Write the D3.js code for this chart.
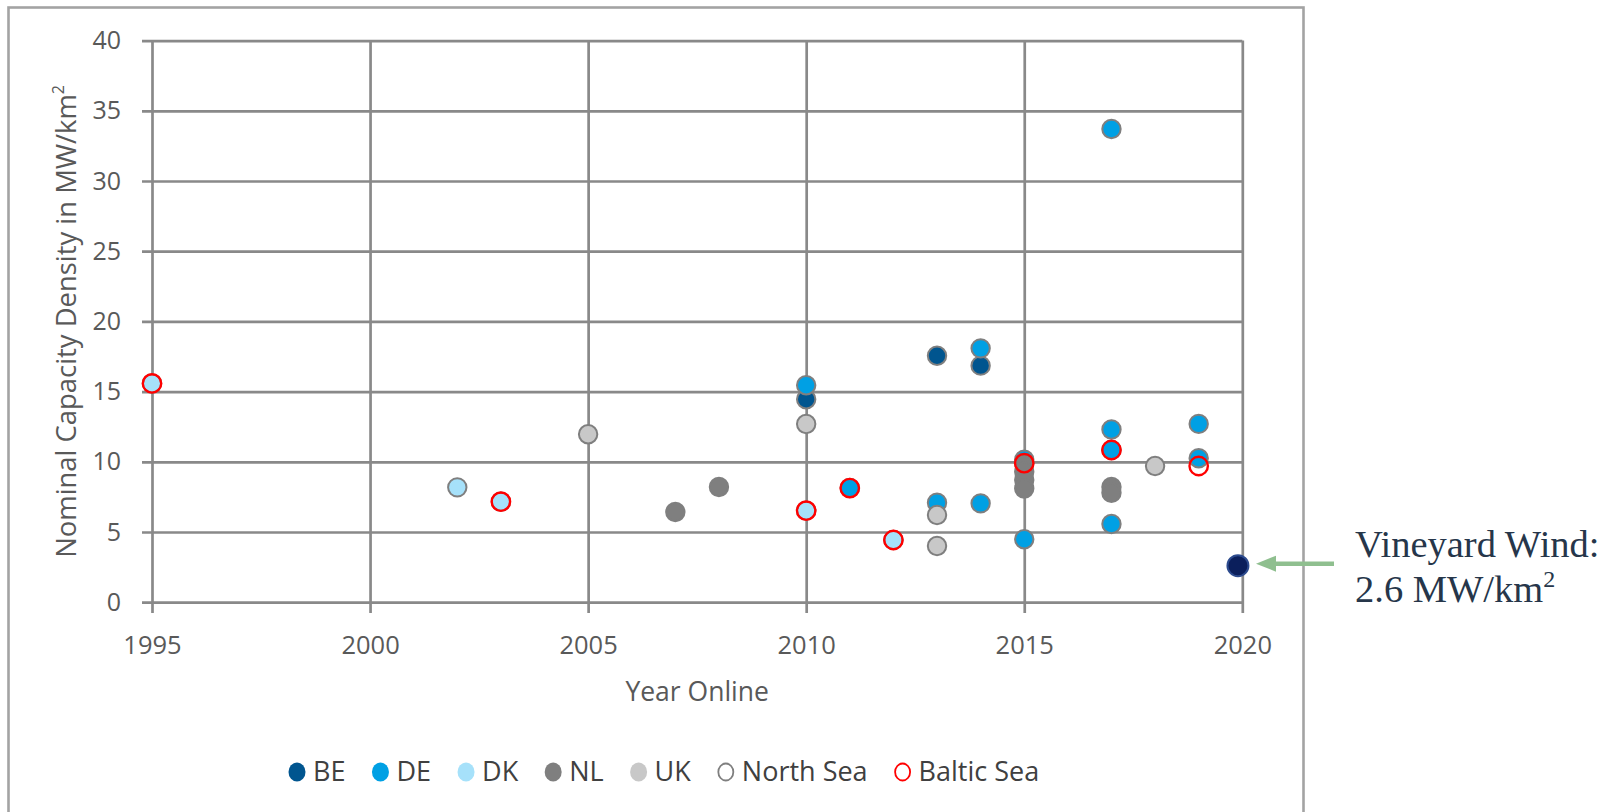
<!DOCTYPE html>
<html>
<head>
<meta charset="utf-8">
<script src="https://cdn.jsdelivr.net/npm/d3@7"></script>
<style>
  html, body { margin: 0; padding: 0; background: #ffffff; }
  svg { display: block; }
</style>
</head>
<body>
<svg id="chart" width="1612" height="812"></svg>
<script>
// ---------- data ----------
const xTicks = [1995, 2000, 2005, 2010, 2015, 2020];
const yTicks = [0, 5, 10, 15, 20, 25, 30, 35, 40];

const beYears  = [2010, 2013, 2014];
const beValues = [14.45, 17.55, 16.85];

const deYears  = [2010, 2011, 2013, 2014, 2014, 2015, 2015, 2017, 2017, 2017, 2017, 2019, 2019];
const deValues = [15.45, 8.13, 7.09, 18.08, 7.04, 10.15, 4.48, 33.7, 12.3, 10.84, 5.57, 12.7, 10.25];

const dkYears  = [1995, 2002, 2003, 2010, 2012];
const dkValues = [15.58, 8.18, 7.16, 6.52, 4.43];

const nlYears  = [2007, 2008, 2015, 2015, 2015, 2015, 2017, 2017];
const nlValues = [6.42, 8.2, 9.9, 9.3, 8.7, 8.1, 8.2, 7.8];

const ukYears  = [2005, 2010, 2013, 2013, 2018];
const ukValues = [11.96, 12.69, 6.21, 4.0, 9.7];

const balticYears  = [1995, 2003, 2010, 2011, 2012, 2015, 2017, 2019];
const balticValues = [15.58, 7.16, 6.52, 8.13, 4.43, 9.9, 10.84, 9.7];

const vineyardYear = 2019.9;
const vineyardValue = 2.6;

const legendLabels = ["BE", "DE", "DK", "NL", "UK", "North Sea", "Baltic Sea"];

// ---------- layout ----------
const svg = d3.select("#chart");
const FONT = "'Open Sans', 'Noto Sans', sans-serif";
const gridColor = "#898989";

const x = d3.scaleLinear().domain([1995, 2020]).range([152, 1242.3]);
const y = d3.scaleLinear().domain([0, 40]).range([602.2, 40.6]);

// outer frame
svg.append("rect")
  .attr("x", 8.5).attr("y", 7.5).attr("width", 1295).attr("height", 830)
  .attr("fill", "none").attr("stroke", "#a3a3a3").attr("stroke-width", 2.6);

// y axis with horizontal gridlines
const yAxis = svg.append("g")
  .attr("transform", "translate(142,0)")
  .call(d3.axisLeft(y).tickValues(yTicks).tickSizeInner(-(x(2020) - 142)).tickSizeOuter(0).tickPadding(21).tickFormat(d3.format("d")));
yAxis.select(".domain").remove();
yAxis.selectAll("line").attr("stroke", gridColor).attr("stroke-width", 2.7);
yAxis.selectAll("text").attr("font-family", FONT).attr("font-size", 25).attr("fill", "#595959");

// x axis with vertical gridlines
const xAxis = svg.append("g")
  .attr("transform", "translate(0,613)")
  .call(d3.axisBottom(x).tickValues(xTicks).tickSizeInner(-(613 - y(40))).tickSizeOuter(0).tickPadding(23).tickFormat(d3.format("d")));
xAxis.select(".domain").remove();
xAxis.selectAll("line").attr("stroke", gridColor).attr("stroke-width", 2.7);
xAxis.selectAll("text").attr("font-family", FONT).attr("font-size", 25.5).attr("fill", "#595959");

// axis titles
svg.append("text")
  .attr("x", (x(1995) + x(2020)) / 2).attr("y", 701)
  .attr("text-anchor", "middle")
  .attr("font-family", FONT).attr("font-size", 26.5).attr("fill", "#595959")
  .text("Year Online");

const yt = svg.append("text")
  .attr("transform", `translate(76,${(y(0) + y(40)) / 2}) rotate(-90)`)
  .attr("text-anchor", "middle")
  .attr("font-family", FONT).attr("font-size", 27.4).attr("fill", "#595959");
yt.append("tspan").text("Nominal Capacity Density in MW/km");
yt.append("tspan").attr("font-size", 16).attr("dy", -12).text("2");

// ---------- points ----------
const series = [
  { years: beYears, values: beValues, fill: "#00558f", stroke: "#7f7f7f" },
  { years: deYears, values: deValues, fill: "#00a0e4", stroke: "#7f7f7f" },
  { years: dkYears, values: dkValues, fill: "#a6e1fa", stroke: "#7f7f7f" },
  { years: nlYears, values: nlValues, fill: "#7f7f7f", stroke: "#7f7f7f" },
  { years: ukYears, values: ukValues, fill: "#c8c8c8", stroke: "#7f7f7f" }
];
const pts = svg.append("g");
series.forEach(s => {
  pts.selectAll(null)
    .data(s.years.map((yr, i) => ({ yr, v: s.values[i] })))
    .enter().append("circle")
    .attr("cx", d => x(d.yr)).attr("cy", d => y(d.v)).attr("r", 9.2)
    .attr("fill", s.fill).attr("stroke", s.stroke).attr("stroke-width", 2);
});
pts.selectAll(null)
  .data(balticYears.map((yr, i) => ({ yr, v: balticValues[i] })))
  .enter().append("circle")
  .attr("cx", d => x(d.yr)).attr("cy", d => y(d.v)).attr("r", 9.2)
  .attr("fill", "none").attr("stroke", "#ff0000").attr("stroke-width", 2.4);

// Vineyard Wind
svg.append("circle")
  .attr("cx", x(vineyardYear)).attr("cy", y(vineyardValue)).attr("r", 10.5)
  .attr("fill", "#0b1f5c").attr("stroke", "#2d4b8e").attr("stroke-width", 2);

// arrow
const ay = y(vineyardValue) - 2;
svg.append("line")
  .attr("x1", 1334).attr("y1", ay).attr("x2", 1272).attr("y2", ay)
  .attr("stroke", "#8fbf8f").attr("stroke-width", 4.5);
svg.append("path")
  .attr("d", `M1256,${ay} L1276,${ay - 8} L1276,${ay + 8} Z`)
  .attr("fill", "#8fbf8f");

// annotation text
const SERIF = "'Liberation Serif', 'DejaVu Serif', serif";
svg.append("text")
  .attr("x", 1355).attr("y", 557)
  .attr("font-family", SERIF).attr("font-size", 38.5).attr("fill", "#26364a")
  .text("Vineyard Wind:");
const t2 = svg.append("text")
  .attr("x", 1355).attr("y", 602)
  .attr("font-family", SERIF).attr("font-size", 38.5).attr("fill", "#26364a");
t2.append("tspan").text("2.6 MW/km");
t2.append("tspan").attr("font-size", 24).attr("dy", -15).text("2");

// ---------- legend ----------
const legendStyles = [
  { fill: "#00558f", stroke: "none" },
  { fill: "#00a0e4", stroke: "none" },
  { fill: "#a6e1fa", stroke: "none" },
  { fill: "#7f7f7f", stroke: "none" },
  { fill: "#c8c8c8", stroke: "none" },
  { fill: "none", stroke: "#7f7f7f" },
  { fill: "none", stroke: "#ff0000" }
];
const legend = svg.append("g");
let lx = 297;
const ly = 772;
legendLabels.forEach((lab, i) => {
  const st = legendStyles[i];
  legend.append("ellipse")
    .attr("cx", lx).attr("cy", ly).attr("rx", st.fill === "none" ? 7.5 : 8.5).attr("ry", st.fill === "none" ? 8.5 : 9.5)
    .attr("fill", st.fill).attr("stroke", st.stroke).attr("stroke-width", 1.8);
  const t = legend.append("text")
    .attr("x", lx + 16).attr("y", ly).attr("dy", "0.35em")
    .attr("font-family", FONT).attr("font-size", 27).attr("fill", "#404040")
    .text(lab);
  const w = t.node().getComputedTextLength();
  lx = lx + 16 + w + 35;
});
</script>
</body>
</html>
